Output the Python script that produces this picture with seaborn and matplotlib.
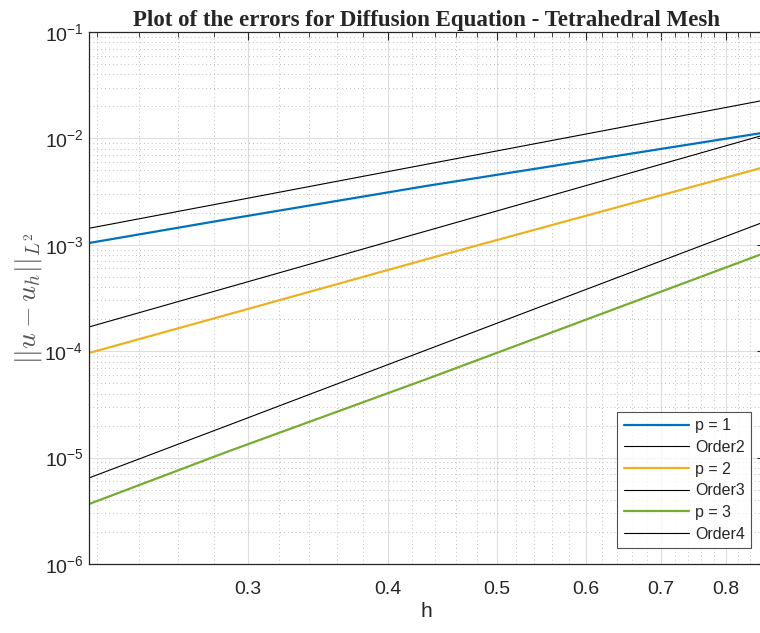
import matplotlib
matplotlib.use("Agg")
import matplotlib.pyplot as plt
import matplotlib.ticker as mticker
import seaborn as sns
import numpy as np

sns.set_style("white")
plt.rcParams['font.family'] = ['Liberation Sans', 'DejaVu Sans']
plt.rcParams['mathtext.fontset'] = 'custom'
plt.rcParams['mathtext.rm'] = 'Liberation Sans'
plt.rcParams['mathtext.it'] = 'Liberation Sans:italic'
plt.rcParams['mathtext.bf'] = 'Liberation Sans:bold'

# mesh sizes
h = [0.2165, 0.2887, 0.433, 0.866]

# errors
err_p1 = [1.04e-3, 1.75e-3, 3.58e-3, 1.135e-2]
err_p2 = [9.62e-5, 2.23e-4, 7.33e-4, 5.38e-3]
err_p3 = [3.66e-6, 1.153e-5, 5.48e-5, 8.37e-4]

# reference slopes
order2 = [1.43e-3, 2.54e-3, 5.72e-3, 2.29e-2]
order3 = [1.69e-4, 4.01e-4, 1.352e-3, 1.081e-2]
order4 = [6.44e-6, 2.03e-5, 1.030e-4, 1.648e-3]

xticks = [0.3, 0.4, 0.5, 0.6, 0.7, 0.8]

fig = plt.figure(figsize=(7.6, 6.33), dpi=100)
ax = fig.add_axes([0.1171, 0.1090, 0.8889, 0.8404])

series = [
    (err_p1, 'p = 1', '#0072BD', 1.6),
    (order2, 'Order2', 'black', 0.8),
    (err_p2, 'p = 2', '#EDB120', 1.6),
    (order3, 'Order3', 'black', 0.8),
    (err_p3, 'p = 3', '#77AC30', 1.6),
    (order4, 'Order4', 'black', 0.8),
]
for vals, lab, col, lw in series:
    sns.lineplot(x=h, y=vals, ax=ax, color=col, lw=lw, label=lab)

ax.set_xscale('log')
ax.set_yscale('log')
ax.set_xlim(0.2165, 0.866)
ax.set_ylim(1e-6, 1e-1)

ax.xaxis.set_major_locator(mticker.FixedLocator(xticks))
ax.xaxis.set_major_formatter(mticker.FixedFormatter([str(t) for t in xticks]))
ax.xaxis.set_minor_locator(mticker.FixedLocator(np.arange(0.22, 0.87, 0.02)))
ax.xaxis.set_minor_formatter(mticker.NullFormatter())
ax.yaxis.set_major_locator(mticker.LogLocator(base=10, numticks=10))
ax.yaxis.set_minor_locator(mticker.LogLocator(base=10, subs=np.arange(2, 10), numticks=20))
ax.yaxis.set_minor_formatter(mticker.NullFormatter())

ax.grid(True, which='major', color='#dedede', lw=0.8, ls='-')
ax.grid(True, which='minor', color='#bdbdbd', lw=0.7, ls=(0, (1, 3)))
ax.set_axisbelow(True)

ax.tick_params(which='both', direction='in', top=True, right=True, colors='#262626', labelcolor='#262626')
ax.tick_params(which='major', length=6, width=0.8, labelsize=14)
ax.tick_params(which='minor', length=3.5, width=0.6)
ax.tick_params(axis='x', which='major', pad=12)
ax.tick_params(axis='y', which='major', pad=4)
for s in ax.spines.values():
    s.set_color('#262626')
    s.set_linewidth(0.9)

ax.set_title('Plot of the errors for Diffusion Equation - Tetrahedral Mesh',
             family='Liberation Serif', fontweight='bold', fontsize=16.5, pad=4)
ax.set_xlabel('h', fontsize=15, color='#262626', labelpad=3)
ax.set_ylabel(r'$||u-u_h||_{L^2}$', fontsize=20, color='#555555',
              math_fontfamily='cm', labelpad=0)

leg = ax.legend(loc='lower right', bbox_to_anchor=(0.980, 0.030), borderaxespad=0,
                fontsize=11.5, handlelength=4.1, handletextpad=0.35,
                labelspacing=0.42, borderpad=0.4, frameon=True, fancybox=False)
leg.get_frame().set_edgecolor('#262626')
leg.get_frame().set_linewidth(0.8)

fig.savefig('out.png', dpi=100)
